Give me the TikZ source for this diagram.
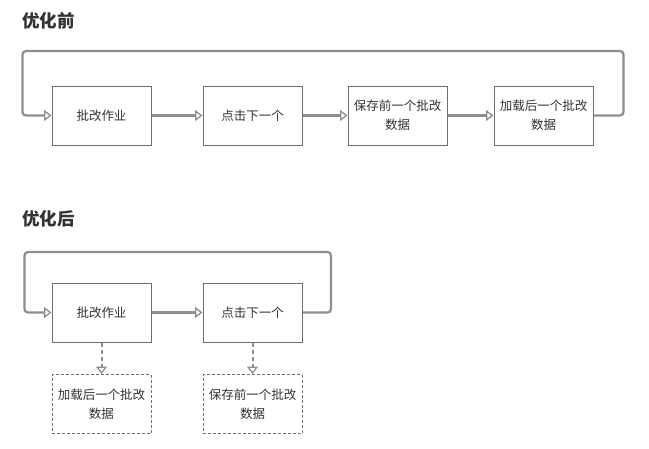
\documentclass[tikz,border=0pt]{standalone}
\usepackage{fontspec}
\newfontfamily\cjk{Noto Sans CJK SC}
\usetikzlibrary{arrows.meta}
\definecolor{linegray}{HTML}{8E8E8E}
\definecolor{boxgray}{HTML}{6E6E6E}
\definecolor{txt}{HTML}{333333}
\tikzset{
  box/.style={draw=boxgray, line width=1pt, minimum width=99pt, minimum height=59pt,
    inner sep=0pt, align=center, text=txt, font=\cjk\fontsize{12.5}{19}\selectfont},
  dbox/.style={box, dashed, dash pattern=on 3pt off 2pt, draw=boxgray},
  title/.style={anchor=west, text=txt, font=\cjk\bfseries\fontsize{17.5}{20}\selectfont, inner sep=0pt},
  tip/.style={-{Triangle[open, length=7.5pt, width=11pt, line width=1.3pt]}},
  flow/.style={draw=linegray, line width=2.2pt, rounded corners=3.5pt, tip},
  dflow/.style={draw=linegray, line width=2pt, dash pattern=on 4pt off 3pt, tip},
}
\begin{document}
\begin{tikzpicture}[x=1pt, y=-1pt]
\useasboundingbox (0,0) rectangle (649,448);
\fill[white] (0,0) rectangle (649,448);
% top
\node[title] (t1) at (22,21) {优化前};
\node[box] (a1) at (101.5,115.5) {批改作业};
\node[box] (a2) at (252.5,115.5) {点击下一个};
\node[box] (a3) at (397.5,115.5) {保存前一个批改\\数据};
\node[box] (a4) at (543.5,115.5) {加载后一个批改\\数据};
\coordinate (atr) at (623.5,51);
\coordinate (atl) at (22.5,51);
\draw[flow] (a1.east) -- (a2.west);
\draw[flow] (a2.east) -- (a3.west);
\draw[flow] (a3.east) -- (a4.west);
\draw[flow] (a4.east) -| (atr) -- (atl) |- (a1.west);
% bottom
\node[title] (t2) at (22,219) {优化后};
\node[box] (b1) at (101.5,312.5) {批改作业};
\node[box] (b2) at (252.5,312.5) {点击下一个};
\node[dbox] (c1) at (101.5,404) {加载后一个批改\\数据};
\node[dbox] (c2) at (252.5,404) {保存前一个批改\\数据};
\coordinate (btr) at (331,252);
\coordinate (btl) at (24.5,252);
\draw[flow] (b1.east) -- (b2.west);
\draw[flow] (b2.east) -| (btr) -- (btl) |- (b1.west);
\draw[dflow] (b1.south) -- (c1.north);
\draw[dflow] (b2.south) -- (c2.north);
\end{tikzpicture}
\end{document}
